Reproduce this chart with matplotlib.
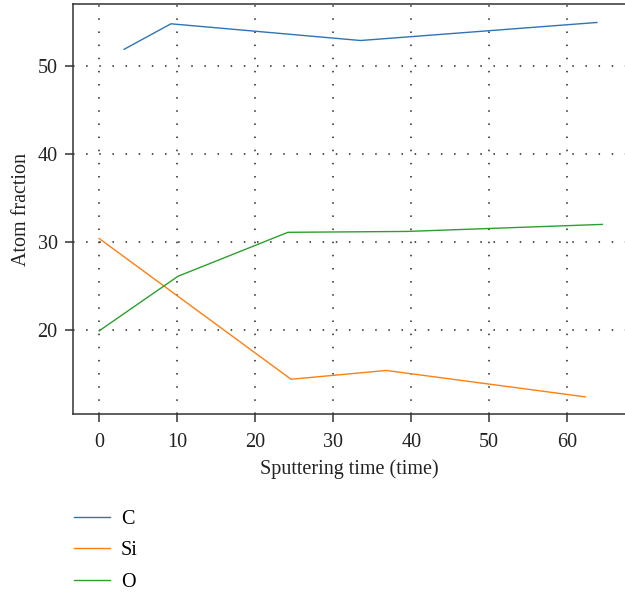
import matplotlib
matplotlib.use("Agg")
import matplotlib.pyplot as plt

plt.rcParams['font.family'] = ['Liberation Serif', 'DejaVu Serif']

# ------------------------------------------------------------
# Données
# ------------------------------------------------------------
c_temps = [3.2, 9.2, 33.5, 63.8]
c_frac = [51.9, 54.8, 52.9, 54.95]

si_temps = [0.0, 24.6, 36.8, 62.3]
si_frac = [30.4, 14.4, 15.4, 12.4]

o_temps = [0.0, 10.1, 24.2, 39.5, 64.5]
o_frac = [19.9, 26.1, 31.1, 31.2, 32.0]

x_ticks = [0, 10, 20, 30, 40, 50, 60]
y_ticks = [20, 30, 40, 50]

# ------------------------------------------------------------
# Figure
# ------------------------------------------------------------
fs = 14.5
fig = plt.figure(figsize=(6.25, 5.95), dpi=100)
ax = fig.add_axes([73/625, 1 - 414/595, 1 - 73/625, 410/595])

ax.plot(c_temps, c_frac, color='#2f74b5', lw=1.0, label='C')
ax.plot(si_temps, si_frac, color='#ff7f0e', lw=1.0, label='Si')
ax.plot(o_temps, o_frac, color='#2ca02c', lw=1.0, label='O')

ax.set_xlim(-3.35, 67.4)
ax.set_ylim(10.45, 57.05)
ax.set_xticks(x_ticks)
ax.set_yticks(y_ticks)

ax.grid(True, color='#222222', linestyle=(0, (1, 7.6)), lw=1.1)
ax.set_axisbelow(True)

for side in ['left', 'bottom', 'top']:
    ax.spines[side].set_color('#333333')
    ax.spines[side].set_linewidth(1.1)
ax.spines['right'].set_visible(False)

ax.tick_params(direction='out', length=6, width=1.1, color='#333333',
               labelsize=fs, labelcolor='#222222', pad=5)
ax.tick_params(axis='x', pad=8)

ax.set_xlabel('Sputtering time (time)', fontsize=fs, color='#222222', labelpad=5)
ax.set_ylabel('Atom fraction', fontsize=fs, color='#222222', labelpad=5)

fig.legend(loc='upper left', bbox_to_anchor=(0.09, 1 - 492/595),
           frameon=False, fontsize=fs, handlelength=1.75,
           labelspacing=0.6, handletextpad=0.55)

fig.savefig('out.png', dpi=100)
